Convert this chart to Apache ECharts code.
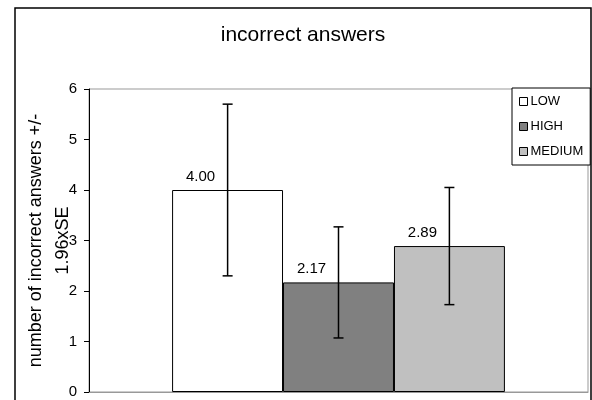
<!DOCTYPE html>
<html>
<head>
<meta charset="utf-8">
<script src="https://cdn.jsdelivr.net/npm/echarts@6/dist/echarts.min.js"></script>
<style>
  html, body { margin: 0; padding: 0; background: #fff; }
  #main { width: 592px; height: 400px; }
</style>
</head>
<body>
<div id="main"></div>
<script>
const categories = ['']
const groupNames = ['LOW', 'HIGH', 'MEDIUM']
const groupColors = ['#ffffff', '#808080', '#c0c0c0']
const means = [4.00, 2.17, 2.89]
const errLow = [2.30, 1.07, 1.73]   // mean - 1.96xSE
const errHigh = [5.70, 3.27, 4.05]  // mean + 1.96xSE
const yTicks = [0, 1, 2, 3, 4, 5, 6]

const font = 'Liberation Sans, Arial, sans-serif'
const catGap = 1 / 3 // share of the category left empty

const chart = echarts.init(document.getElementById('main'))

const barSeries = groupNames.map((name, i) => ({
  name: name,
  type: 'bar',
  barGap: '0%',
  barCategoryGap: (catGap * 100).toFixed(1) + '%',
  itemStyle: { color: groupColors[i], borderColor: '#000', borderWidth: 1 },
  label: {
    show: true,
    position: 'top',
    offset: [-27, -1],
    color: '#000',
    fontSize: 15,
    fontFamily: font,
    formatter: (p) => p.value.toFixed(2)
  },
  data: [means[i]]
}))

// error bars drawn on top of the bars
const errorSeries = {
  type: 'custom',
  name: 'error',
  z: 10,
  silent: true,
  renderItem: (params, api) => {
    const idx = api.value(0)
    const center = api.coord([0, 0])[0]
    const band = api.size([1, 0])[0]
    const barW = band * (1 - catGap) / groupNames.length
    const x = center + (idx - (groupNames.length - 1) / 2) * barW
    const yLo = api.coord([0, api.value(1)])[1]
    const yHi = api.coord([0, api.value(2)])[1]
    const cap = 5
    const style = { stroke: '#000', lineWidth: 1.5 }
    return {
      type: 'group',
      children: [
        { type: 'line', shape: { x1: x, y1: yLo, x2: x, y2: yHi }, style: style },
        { type: 'line', shape: { x1: x - cap, y1: yHi, x2: x + cap, y2: yHi }, style: style },
        { type: 'line', shape: { x1: x - cap, y1: yLo, x2: x + cap, y2: yLo }, style: style }
      ]
    }
  },
  encode: { x: 0, y: [1, 2] },
  data: groupNames.map((n, i) => [i, errLow[i], errHigh[i]])
}

const option = {
  animation: false,
  backgroundColor: '#fff',
  title: {
    text: 'incorrect answers',
    left: 303,
    textAlign: 'center',
    top: 25,
    padding: 0,
    textStyle: { fontSize: 21, fontWeight: 'normal', color: '#000', fontFamily: font }
  },
  legend: {
    data: groupNames,
    orient: 'vertical',
    left: 512,
    top: 88,
    padding: [7, 7, 7, 7],
    backgroundColor: '#fff',
    borderColor: '#000',
    borderWidth: 1,
    borderRadius: 0,
    icon: 'rect',
    itemWidth: 8,
    itemHeight: 8,
    itemGap: 12,
    itemStyle: { borderColor: '#000', borderWidth: 1 },
    textStyle: { fontSize: 13, color: '#000', fontFamily: font, padding: [0, 0, 0, -2] }
  },
  graphic: [
    {
      type: 'rect',
      shape: { x: 15, y: 8, width: 576, height: 400 },
      style: { fill: 'none', stroke: '#000', lineWidth: 1.5 },
      silent: true,
      z: -1
    }
  ],
  grid: {
    left: 89,
    top: 89,
    right: 4,
    bottom: 8,
    show: true,
    borderColor: '#999',
    borderWidth: 1,
    backgroundColor: '#fff'
  },
  xAxis: {
    type: 'category',
    data: categories,
    axisLine: { show: true, lineStyle: { color: '#999' } },
    axisTick: { show: false },
    axisLabel: { show: false }
  },
  yAxis: {
    type: 'value',
    min: yTicks[0],
    max: yTicks[yTicks.length - 1],
    interval: 1,
    name: 'number of incorrect answers +/-\n1.96xSE',
    nameLocation: 'middle',
    nameRotate: 90,
    nameGap: 12,
    nameMoveOverlap: false,
    nameTextStyle: { fontSize: 18, lineHeight: 27, color: '#000', fontFamily: font },
    axisLine: { show: true, lineStyle: { color: '#000', width: 1 } },
    axisTick: { show: true, length: 5, lineStyle: { color: '#000' } },
    axisLabel: { fontSize: 15, color: '#000', fontFamily: font, margin: 12 },
    splitLine: { show: false }
  },
  series: [...barSeries, errorSeries]
}

chart.setOption(option)
</script>
</body>
</html>
